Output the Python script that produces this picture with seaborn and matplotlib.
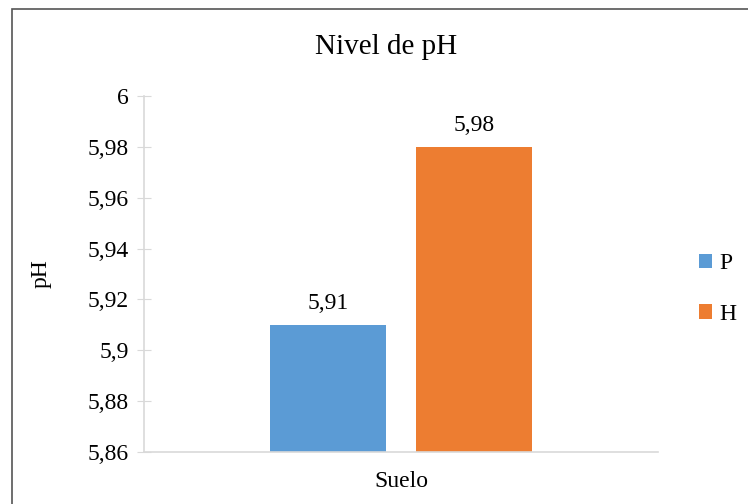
import matplotlib
matplotlib.use("Agg")
import pandas as pd
import seaborn as sns
import matplotlib.pyplot as plt
from matplotlib.ticker import FuncFormatter, MultipleLocator
from matplotlib.patches import Rectangle

categoria = ["Suelo", "Suelo"]
tratamiento = ["P", "H"]
ph_valores = [5.91, 5.98]
colores = ["#5B9BD5", "#ED7D31"]

df = pd.DataFrame({"cat": categoria, "trat": tratamiento, "ph": ph_valores})

sns.set_style("white")
plt.rcParams["font.family"] = ["Liberation Serif", "DejaVu Serif"]
plt.rcParams["text.color"] = "black"
plt.rcParams["axes.labelcolor"] = "black"
plt.rcParams["xtick.labelcolor"] = "black"
plt.rcParams["ytick.labelcolor"] = "black"

fig = plt.figure(figsize=(7.48, 5.04), dpi=100)
ax = fig.add_axes([0.1925, 0.1032, 0.6872, 0.7063])

sns.barplot(data=df, x="cat", y="ph", hue="trat", palette=colores, saturation=1,
            width=0.568, gap=0.205, linewidth=0, ax=ax, legend=True)

ax.set_ylim(5.86, 6.0)
ax.set_xlim(-0.5, 0.5)
ax.yaxis.set_major_locator(MultipleLocator(0.02))
ax.yaxis.set_major_formatter(FuncFormatter(
    lambda v, p: f"{v:.2f}".rstrip("0").rstrip(".").replace(".", ",")))

for s in ["top", "right"]:
    ax.spines[s].set_visible(False)
for s in ["left", "bottom"]:
    ax.spines[s].set_color("#D9D9D9")
    ax.spines[s].set_linewidth(1.2)

ax.tick_params(axis="y", direction="inout", length=10, color="#D9D9D9",
               labelsize=17, pad=6, left=True)
ax.tick_params(axis="x", length=0, labelsize=17, pad=14)
ax.set_xlabel("")
ax.set_ylabel("pH", fontsize=17, labelpad=26)

fig.text(386 / 748, 1 - 47 / 504, "Nivel de pH", fontsize=21, ha="center", va="center")

for cont in ax.containers:
    ax.bar_label(cont, labels=[f"{v:.2f}".replace(".", ",") for v in cont.datavalues],
                 fontsize=17, padding=8)

ax.legend(loc="center left", bbox_to_anchor=(699 / 748, 1 - 289 / 504),
          bbox_transform=fig.transFigure, borderpad=0, borderaxespad=0,
          frameon=False, fontsize=17, handlelength=0.55, handleheight=0.55,
          handletextpad=0.3, labelspacing=1.25)

fig.patches.append(Rectangle((12 / 748, -0.05), 1.1, 1 - 9 / 504 + 0.05,
                             transform=fig.transFigure, fill=False,
                             edgecolor="#555555", linewidth=1.2))

fig.savefig("out.png", dpi=100)
